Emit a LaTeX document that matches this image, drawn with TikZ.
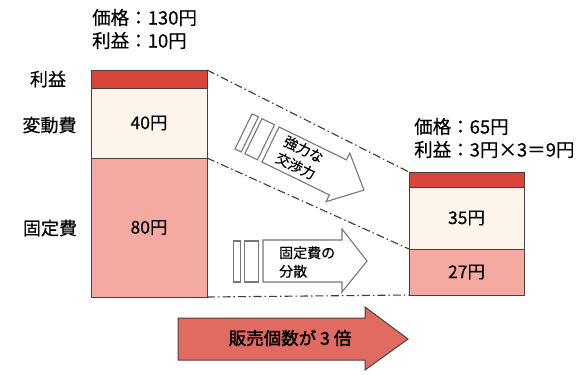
\documentclass[tikz,border=0pt]{standalone}
\usepackage{fontspec}
\setmainfont[FakeBold=0.4]{Noto Sans CJK JP}
\newfontfamily\jpbold[FakeBold=1.8]{Noto Sans CJK JP}
\definecolor{profitred}{HTML}{D9453B}
\definecolor{cream}{HTML}{FDF4EB}
\definecolor{pinkfix}{HTML}{F4AAA0}
\definecolor{barline}{HTML}{4A3F3F}
\definecolor{dashcol}{HTML}{3C3C3C}
\definecolor{arrowred}{HTML}{E26B61}
\definecolor{arrowline}{HTML}{777777}
\begin{document}
\begin{tikzpicture}[x=1pt,y=-1pt,
  bar/.style={draw=barline, line width=0.9pt, inner sep=0pt, outer sep=0pt, anchor=north west,
    font=\fontsize{17.5}{20}\selectfont},
  lbl/.style={font=\fontsize{18}{20}\selectfont, inner sep=0pt},
  info/.style={font=\fontsize{18.5}{23}\selectfont, inner sep=0pt, anchor=west, align=left},
  conn/.style={draw=dashcol, line width=1.1pt, dash pattern=on 8pt off 3pt on 1.5pt off 3pt},
  outarrow/.style={draw=arrowline, line width=1.1pt, fill=white},
  arrtext/.style={font=\fontsize{14}{18.5}\selectfont, inner sep=0pt, align=left}]
\useasboundingbox (0,0) rectangle (584,375);
\fill[white] (0,0) rectangle (584,375);

% bars
\node[bar, fill=profitred, minimum width=116, minimum height=18] (lp) at (91,70) {};
\node[bar, fill=cream, minimum width=116, minimum height=70] (lv) at (91,88) {40円};
\node[bar, fill=pinkfix, minimum width=116, minimum height=139] (lf) at (91,158) {80円};

\node[bar, fill=profitred, minimum width=115, minimum height=15] (rp) at (409,172) {};
\node[bar, fill=cream, minimum width=115, minimum height=62] (rv) at (409,187) {35円};
\node[bar, fill=pinkfix, minimum width=115, minimum height=46] (rf) at (409,249) {27円};

% dashed connectors
\draw[conn] (lp.north east) -- (rp.north west);
\draw[conn] (lf.north east) -- (rf.north west);
\draw[conn] (lf.south east) -- (rf.south west);

% left labels
\node[lbl] (l1) at (48,79) {利益};
\node[lbl] (l2) at (49.5,125) {変動費};
\node[lbl] (l3) at (50,228) {固定費};

% info texts
\node[info] (ltxt) at (92,29) {価格：130円\\利益：10円};
\node[info] (rtxt) at (414,138) {価格：65円\\利益：3円×3＝9円};

% rotated arrow
\begin{scope}[shift={(270.5,144.5)}, rotate=-26]
  \draw[outarrow] (-30,-19.5) rectangle (-23,19.5);
  \draw[outarrow] (-19,-19.5) rectangle (-5,19.5);
  \draw[outarrow] (0,-19.5) -- (75,-19.5) -- (75,-27) -- (104,0) -- (75,27) -- (75,19.5) -- (0,19.5) -- cycle;
  \node[arrtext, rotate=-26] (t1) at (32,-1) {強力な\\交渉力};
\end{scope}

% middle arrow
\draw[outarrow] (233.3,241) rectangle (240.7,282);
\draw[outarrow] (244.3,241) rectangle (258.3,282);
\draw[outarrow] (263,240) -- (342,240) -- (342,229) -- (367,261) -- (342,292) -- (342,282) -- (263,282) -- cycle;
\node[arrtext, anchor=west] (t2) at (279,262) {固定費の\\分散};

% big arrow
\draw[draw=barline, line width=1pt, fill=arrowred] (178,318) -- (365,318) -- (365,307) -- (408,339) -- (365,370) -- (365,360) -- (178,360) -- cycle;
\node[font=\jpbold\fontsize{17.5}{20}\selectfont, inner sep=0pt] (t3) at (290,338) {販売個数が 3 倍};
\end{tikzpicture}
\end{document}
